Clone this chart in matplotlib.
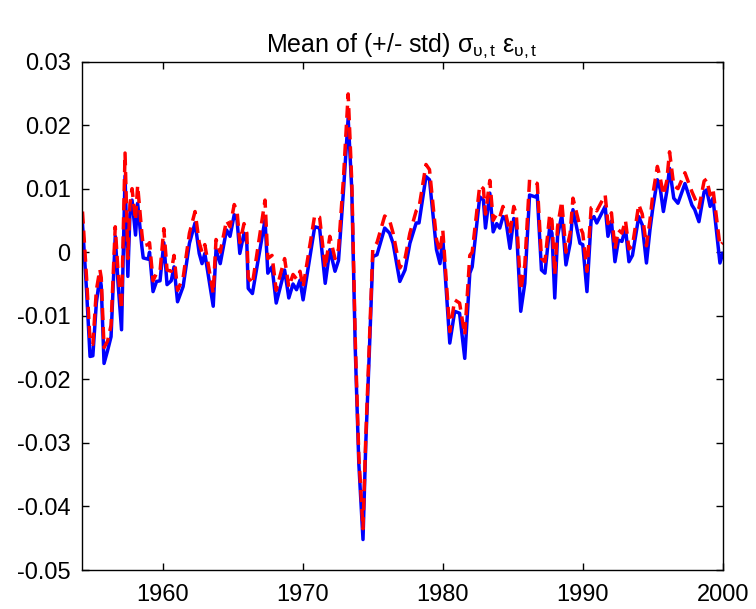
import matplotlib
matplotlib.use("Agg")
import matplotlib.pyplot as plt

plt.rcParams['font.family'] = ['Liberation Sans', 'DejaVu Sans']
plt.rcParams['mathtext.fontset'] = 'custom'
plt.rcParams['mathtext.rm'] = 'Liberation Sans'
plt.rcParams['mathtext.it'] = 'Liberation Sans'

title = r'Mean of (+/- std) $\sigma_{\upsilon,t}$ $\varepsilon_{\upsilon,t}$'

time = [1954.26, 1954.55, 1954.8, 1955.0, 1955.25, 1955.5, 1955.6, 1955.8, 1956.05, 1956.3,
        1956.6, 1956.8, 1957.05, 1957.3, 1957.5, 1957.65, 1957.8, 1958.05, 1958.2, 1958.5,
        1958.6, 1958.95, 1959.05, 1959.3, 1959.55, 1959.8, 1960.07, 1960.3, 1960.6, 1960.8,
        1961.05, 1961.45, 1961.9, 1962.3, 1962.6, 1962.8, 1963.0, 1963.6, 1963.8, 1964.1,
        1964.55, 1964.8, 1965.1, 1965.3, 1965.5, 1965.8, 1966.0, 1966.1, 1966.4, 1967.3,
        1967.5, 1967.8, 1968.1, 1968.7, 1969.0, 1969.3, 1969.55, 1969.8, 1970.02, 1970.85,
        1971.2, 1971.6, 1971.93, 1972.3, 1972.55, 1972.9, 1973.24, 1973.5, 1973.75, 1974.0,
        1974.3, 1974.5, 1974.75, 1975.0, 1975.3, 1975.85, 1976.2, 1976.45, 1976.8, 1976.93,
        1977.3, 1977.65, 1978.1, 1978.3, 1978.8, 1979.05, 1979.55, 1979.8, 1980.0, 1980.5,
        1980.85, 1981.2, 1981.57, 1981.93, 1982.1, 1982.64, 1982.9, 1983.05, 1983.36, 1983.6,
        1983.85, 1984.07, 1984.3, 1984.5, 1984.8, 1985.07, 1985.25, 1985.57, 1985.86, 1986.2,
        1986.6, 1986.75, 1987.05, 1987.3, 1987.64, 1987.8, 1988.0, 1988.2, 1988.5, 1988.8,
        1989.1, 1989.3, 1989.8, 1990.0, 1990.3, 1990.6, 1990.8, 1991.0, 1991.6, 1991.8,
        1992.05, 1992.3, 1992.55, 1992.8, 1993.05, 1993.3, 1993.55, 1994.0, 1994.25, 1994.55,
        1994.8, 1995.0, 1995.33, 1995.55, 1995.76, 1996.0, 1996.2, 1996.5, 1996.8, 1997.3,
        1997.8, 1998.0, 1998.3, 1998.67, 1998.85, 1999.1, 1999.3, 1999.8, 2000.0]

mean_blue = [0.0045, -0.0060, -0.0164, -0.0163, -0.0080, -0.0038, -0.0053, -0.0175, -0.0155, -0.0133,
             0.0025, -0.0049, -0.0122, 0.0120, -0.0038, 0.0060, 0.0082, 0.0027, 0.0077, 0.0009,
             -0.0009, -0.0011, 0.0000, -0.0062, -0.0046, -0.0045, 0.0015, -0.0051, -0.0045, -0.0023,
             -0.0078, -0.0054, 0.0014, 0.0046, -0.0002, -0.0018, -0.0002, -0.0085, 0.0004, -0.0018,
             0.0035, 0.0025, 0.0059, 0.0051, -0.0002, 0.0030, 0.0014, -0.0057, -0.0065, 0.0051,
             -0.0033, -0.0023, -0.0080, -0.0028, -0.0072, -0.0050, -0.0059, -0.0044, -0.0075, 0.0040,
             0.0038, -0.0049, 0.0004, -0.0030, -0.0013, 0.0095, 0.0211, 0.0098, -0.0154, -0.0332,
             -0.0452, -0.0300, -0.0159, -0.0007, -0.0004, 0.0038, 0.0030, 0.0014, -0.0030, -0.0046,
             -0.0028, 0.0014, 0.0046, 0.0046, 0.0119, 0.0114, 0.0004, -0.0018, 0.0022, -0.0143,
             -0.0093, -0.0096, -0.0167, -0.0033, -0.0023, 0.0087, 0.0082, 0.0038, 0.0093, 0.0032,
             0.0045, 0.0038, 0.0056, 0.0051, 0.0006, 0.0053, 0.0043, -0.0093, -0.0049, 0.0090,
             0.0087, 0.0090, -0.0028, -0.0033, 0.0040, 0.0030, -0.0072, 0.0025, 0.0059, -0.0020,
             0.0014, 0.0067, 0.0014, 0.0012, -0.0062, 0.0051, 0.0056, 0.0046, 0.0072, 0.0025,
             0.0049, -0.0015, 0.0019, 0.0017, 0.0038, -0.0015, -0.0005, 0.0056, 0.0043, -0.0017,
             0.0035, 0.0069, 0.0114, 0.0098, 0.0064, 0.0095, 0.0132, 0.0085, 0.0077, 0.0108,
             0.0074, 0.0067, 0.0048, 0.0095, 0.0098, 0.0072, 0.0085, -0.0017, -0.0002]

mean_red = [0.0064, -0.0040, -0.0140, -0.0145, -0.0060, -0.0027, -0.0040, -0.0150, -0.0140, -0.0115,
            0.0040, -0.0030, -0.0090, 0.0156, -0.0010, 0.0075, 0.0100, 0.0050, 0.0105, 0.0030,
            0.0010, 0.0012, 0.0015, -0.0045, -0.0033, -0.0030, 0.0037, -0.0028, -0.0030, -0.0005,
            -0.0060, -0.0040, 0.0030, 0.0064, 0.0015, 0.0000, 0.0012, -0.0065, 0.0020, 0.0000,
            0.0050, 0.0040, 0.0075, 0.0065, 0.0015, 0.0045, 0.0030, -0.0040, -0.0050, 0.0082,
            -0.0010, -0.0005, -0.0060, -0.0010, -0.0055, -0.0035, -0.0042, -0.0030, -0.0055, 0.0058,
            0.0055, -0.0025, 0.0025, -0.0010, 0.0005, 0.0115, 0.0249, 0.0110, -0.0140, -0.0320,
            -0.0435, -0.0290, -0.0145, 0.0005, 0.0015, 0.0057, 0.0050, 0.0030, -0.0010, -0.0025,
            -0.0010, 0.0030, 0.0065, 0.0070, 0.0138, 0.0130, 0.0020, 0.0000, 0.0035, -0.0125,
            -0.0075, -0.0080, -0.0130, -0.0005, 0.0000, 0.0105, 0.0100, 0.0060, 0.0113, 0.0050,
            0.0060, 0.0055, 0.0072, 0.0060, 0.0030, 0.0072, 0.0060, -0.0060, -0.0020, 0.0114,
            0.0110, 0.0108, -0.0010, -0.0015, 0.0060, 0.0050, -0.0035, 0.0040, 0.0080, 0.0000,
            0.0030, 0.0085, 0.0040, 0.0030, -0.0030, 0.0070, 0.0072, 0.0065, 0.0090, 0.0045,
            0.0062, 0.0005, 0.0035, 0.0030, 0.0050, 0.0005, 0.0010, 0.0075, 0.0060, 0.0010,
            0.0050, 0.0090, 0.0135, 0.0115, 0.0090, 0.0112, 0.0158, 0.0105, 0.0100, 0.0125,
            0.0095, 0.0085, 0.0070, 0.0112, 0.0115, 0.0090, 0.0100, 0.0010, 0.0015]

x_ticks = [1960, 1970, 1980, 1990, 2000]
y_ticks = [-0.05, -0.04, -0.03, -0.02, -0.01, 0, 0.01, 0.02, 0.03]
y_ticklabels = ['-0.05', '-0.04', '-0.03', '-0.02', '-0.01', '0', '0.01', '0.02', '0.03']

fig = plt.figure(figsize=(7.56, 6.09), dpi=100)
ax = fig.add_axes([0.108, 0.064, 0.848, 0.835])
ax.plot(time, mean_blue, color='#0000ff', lw=2.5, solid_joinstyle='round')
ax.plot(time, mean_red, color='#ff0000', lw=2.5, dashes=(3.5, 2))
ax.set_xlim(1954.2, 2000)
ax.set_ylim(-0.05, 0.03)
ax.set_xticks(x_ticks)
ax.set_xticklabels([str(t) for t in x_ticks])
ax.set_yticks(y_ticks)
ax.set_yticklabels(y_ticklabels)
ax.tick_params(direction='in', top=True, right=True, length=5, width=1,
               labelsize=17, pad=8)
ax.tick_params(axis='x', pad=10)
for s in ax.spines.values():
    s.set_linewidth(1.0)
ax.set_title(title, fontsize=18, pad=7)
fig.savefig('out.png', dpi=100)
